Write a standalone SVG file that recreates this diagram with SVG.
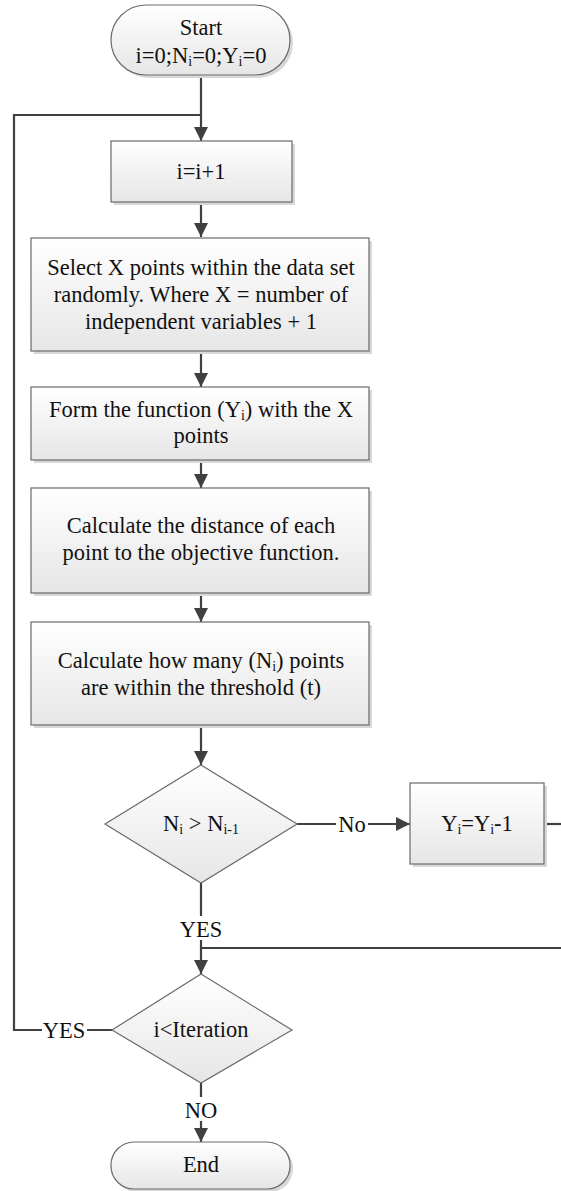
<svg xmlns="http://www.w3.org/2000/svg" width="561" height="1191" viewBox="0 0 561 1191">
<defs>
<linearGradient id="g" x1="0" y1="0" x2="0" y2="1">
<stop offset="0" stop-color="#ffffff"/>
<stop offset="1" stop-color="#e6e6e6"/>
</linearGradient>
<marker id="ah" markerWidth="14" markerHeight="14" refX="14" refY="7" orient="auto" markerUnits="userSpaceOnUse">
<path d="M0,0 L14,7 L0,14 Z" fill="#404040"/>
</marker>
</defs>
<style>
.n{fill:url(#g);stroke:#6a6a6a;stroke-width:1.2}
.sh{fill:#d8d8d8}
text{font-family:'Liberation Serif','DejaVu Serif',serif;font-size:22.5px;fill:#111;text-anchor:middle}
.s{font-size:14px}
.c{fill:none;stroke:#404040;stroke-width:2.2}
.lb{fill:#ffffff}
</style>
<g id="connectors">
<path class="c" d="M201,75 V141" marker-end="url(#ah)"/>
<path class="c" d="M112,1030 H14 V115 H201"/>
<path class="c" d="M201,202 V237" marker-end="url(#ah)"/>
<path class="c" d="M201,351 V387" marker-end="url(#ah)"/>
<path class="c" d="M201,460 V488" marker-end="url(#ah)"/>
<path class="c" d="M201,593 V622" marker-end="url(#ah)"/>
<path class="c" d="M201,725 V765" marker-end="url(#ah)"/>
<path class="c" d="M297,824 H410" marker-end="url(#ah)"/>
<path class="c" d="M544,824 H570"/>
<path class="c" d="M201,883 V974" marker-end="url(#ah)"/>
<path class="c" d="M570,948 H201"/>
<path class="c" d="M201,1083 V1142" marker-end="url(#ah)"/>
<rect class="lb" x="336" y="812" width="32" height="24"/>
<text x="352" y="832">No</text>
<rect class="lb" x="178" y="916" width="46" height="24"/>
<text x="201" y="937">YES</text>
<rect class="lb" x="42" y="1018" width="45" height="24"/>
<text x="64" y="1038">YES</text>
<rect class="lb" x="184" y="1097" width="34" height="24"/>
<text x="201" y="1118">NO</text>
</g>
<g id="start">
<rect class="sh" x="114" y="8" width="179" height="70" rx="35"/>
<rect class="n" x="111" y="5" width="179" height="70" rx="35"/>
<text x="201" y="35">Start</text>
<text x="201" y="63">i=0;N<tspan class="s" dy="3">i</tspan><tspan dy="-3">=0;Y</tspan><tspan class="s" dy="3">i</tspan><tspan dy="-3">=0</tspan></text>
</g>
<g id="inc">
<rect class="sh" x="114" y="144" width="181" height="61"/>
<rect class="n" x="111" y="141" width="181" height="61"/>
<text x="201" y="179">i=i+1</text>
</g>
<g id="select">
<rect class="sh" x="34" y="241" width="338" height="113"/>
<rect class="n" x="31" y="238" width="338" height="113"/>
<text x="201" y="275">Select X points within the data set</text>
<text x="201" y="302">randomly. Where X = number of</text>
<text x="201" y="329">independent variables + 1</text>
</g>
<g id="form">
<rect class="sh" x="34" y="390" width="338" height="73"/>
<rect class="n" x="31" y="387" width="338" height="73"/>
<text x="201" y="417">Form the function (Y<tspan class="s" dy="3">i</tspan><tspan dy="-3">) with the X</tspan></text>
<text x="201" y="443">points</text>
</g>
<g id="distance">
<rect class="sh" x="34" y="491" width="338" height="105"/>
<rect class="n" x="31" y="488" width="338" height="105"/>
<text x="201" y="533">Calculate the distance of each</text>
<text x="201" y="560">point to the objective function.</text>
</g>
<g id="count">
<rect class="sh" x="34" y="625" width="338" height="103"/>
<rect class="n" x="31" y="622" width="338" height="103"/>
<text x="201" y="668">Calculate how many (N<tspan class="s" dy="3">i</tspan><tspan dy="-3">) points</tspan></text>
<text x="201" y="695">are within the threshold (t)</text>
</g>
<g id="cmp">
<polygon class="n" points="201,765 297,824 201,883 105,824"/>
<text x="201" y="831">N<tspan class="s" dy="3">i</tspan><tspan dy="-3"> &gt; N</tspan><tspan class="s" dy="3">i-1</tspan></text>
</g>
<g id="dec">
<rect class="sh" x="413" y="786" width="134" height="81"/>
<rect class="n" x="410" y="783" width="134" height="81"/>
<text x="477" y="831">Y<tspan class="s" dy="3">i</tspan><tspan dy="-3">=Y</tspan><tspan class="s" dy="3">i</tspan><tspan dy="-3">-1</tspan></text>
</g>
<g id="iter">
<polygon class="n" points="201,974 292,1030 201,1083 112,1030"/>
<text x="201" y="1037">i&lt;Iteration</text>
</g>
<g id="end">
<rect class="sh" x="114" y="1145" width="179" height="47" rx="23"/>
<rect class="n" x="111" y="1142" width="179" height="47" rx="23"/>
<text x="201" y="1172">End</text>
</g>
</svg>
